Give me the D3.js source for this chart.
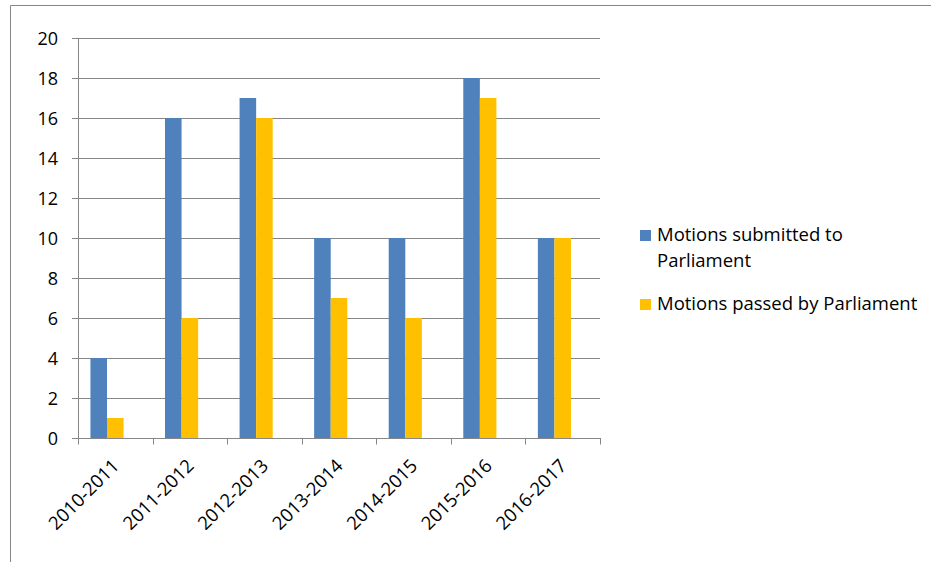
<!DOCTYPE html>
<html>
<head>
<meta charset="utf-8">
<script src="https://cdn.jsdelivr.net/npm/d3@7"></script>
<style>
  html, body { margin: 0; padding: 0; background: #fff; }
  svg { display: block; }
  text { font-family: "Open Sans", Lato, sans-serif; fill: #000; }
</style>
</head>
<body>
<svg id="chart" width="931" height="562"></svg>
<script>
const categories = ["2010-2011", "2011-2012", "2012-2013", "2013-2014", "2014-2015", "2015-2016", "2016-2017"];
const submitted = [4, 16, 17, 10, 10, 18, 10];
const passed = [1, 6, 16, 7, 6, 17, 10];
const yTicks = [0, 2, 4, 6, 8, 10, 12, 14, 16, 18, 20];
const seriesNames = ["Motions submitted to Parliament", "Motions passed by Parliament"];
const seriesKeys = ["submitted", "passed"];
const seriesColors = ["#4F81BD", "#FFC000"];

(function () {
const svg = d3.select("#chart");
const W = 931, H = 562;
const pLeft = 78, pRight = 600, pTop = 38, pBottom = 438;

// outer chart border (only top and left visible)
svg.append("path")
  .attr("d", `M10.5,${H} L10.5,5.5 L${W},5.5`)
  .attr("fill", "none").attr("stroke", "#868686").attr("stroke-width", 1);

const x = d3.scaleBand().domain(categories).range([pLeft, pRight]).padding(0);
// three slots per category (third slot empty) with Excel-like gap
const x1 = d3.scaleBand().domain([...seriesKeys, "_"]).range([0, x.bandwidth()]).paddingInner(0).paddingOuter(0.75);
const y = d3.scaleLinear().domain([0, 20]).range([pBottom, pTop]);

// gridlines
svg.append("g").selectAll("line").data(yTicks).join("line")
  .attr("x1", pLeft - 6).attr("x2", pRight)
  .attr("y1", d => Math.round(y(d)) + 0.5).attr("y2", d => Math.round(y(d)) + 0.5)
  .attr("stroke", "#868686").attr("stroke-width", 1);

// y axis line
svg.append("line")
  .attr("x1", pLeft + 0.5).attr("x2", pLeft + 0.5)
  .attr("y1", pTop).attr("y2", pBottom + 6.5)
  .attr("stroke", "#868686");

// x tick marks at band boundaries
const bounds = categories.map(c => x(c)).concat([pRight]);
svg.append("g").selectAll("line").data(bounds.slice(1)).join("line")
  .attr("x1", d => Math.round(d) + 0.5).attr("x2", d => Math.round(d) + 0.5)
  .attr("y1", pBottom).attr("y2", pBottom + 6.5)
  .attr("stroke", "#868686");

// y labels
svg.append("g").selectAll("text").data(yTicks).join("text")
  .attr("x", 58).attr("y", d => y(d) + 6.5)
  .attr("text-anchor", "end")
  .attr("font-size", 18)
  .text(d => d);

// bars
const rows = categories.map((c, i) => ({ cat: c, submitted: submitted[i], passed: passed[i] }));
const groups = svg.append("g").selectAll("g").data(rows).join("g")
  .attr("transform", d => `translate(${x(d.cat)},0)`);
seriesKeys.forEach((k, si) => {
  groups.append("rect")
    .attr("x", x1(k))
    .attr("width", x1.bandwidth())
    .attr("y", d => y(d[k]))
    .attr("height", d => y(0) - y(d[k]))
    .attr("fill", seriesColors[si]);
});

// x labels
svg.append("g").selectAll("text").data(categories).join("text")
  .attr("transform", d => `translate(${x(d) + x.bandwidth() / 2 + 5},${pBottom + 29}) rotate(-45)`)
  .attr("text-anchor", "end")
  .attr("font-size", 18.5)
  .text(d => d);

// legend
const legend = svg.append("g");
const legendItems = [
  { lines: ["Motions submitted to", "Parliament"], color: seriesColors[0], y: 241 },
  { lines: [seriesNames[1]], color: seriesColors[1], y: 310 }
];
legendItems.forEach(it => {
  legend.append("rect").attr("x", 640).attr("y", it.y - 11).attr("width", 11).attr("height", 11).attr("fill", it.color);
  const t = legend.append("text").attr("x", 657).attr("y", it.y).attr("font-size", 18.5);
  it.lines.forEach((ln, i) => {
    t.append("tspan").attr("x", 657).attr("dy", i === 0 ? 0 : 26).text(ln);
  });
});
})();
</script>
</body>
</html>
